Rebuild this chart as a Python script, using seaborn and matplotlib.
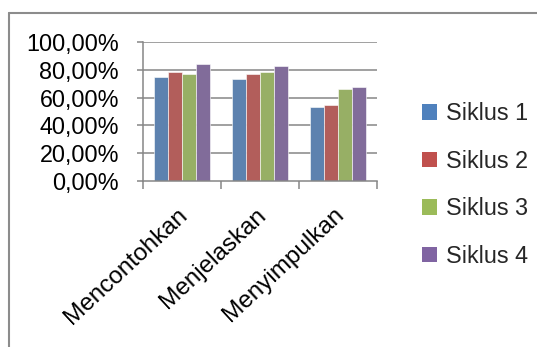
import matplotlib
matplotlib.use("Agg")
import matplotlib.pyplot as plt
import matplotlib.transforms as mtransforms
from matplotlib.lines import Line2D
from matplotlib.patches import Patch
from matplotlib.ticker import FuncFormatter, FixedLocator
import seaborn as sns
import pandas as pd

# Categories and per-cycle percentages
categories = ["Mencontohkan", "Menjelaskan", "Menyimpulkan"]
series_names = ["Siklus 1", "Siklus 2", "Siklus 3", "Siklus 4"]
siklus_1 = [0.751, 0.737, 0.535]
siklus_2 = [0.783, 0.769, 0.547]
siklus_3 = [0.769, 0.783, 0.663]
siklus_4 = [0.841, 0.824, 0.677]
y_ticks = [0.0, 0.2, 0.4, 0.6, 0.8, 1.0]

colors = ["#4F81BD", "#C0504D", "#9BBB59", "#8064A2"]

rows = []
for name, vals in zip(series_names, [siklus_1, siklus_2, siklus_3, siklus_4]):
    for cat, v in zip(categories, vals):
        rows.append({"Kategori": cat, "Siklus": name, "Nilai": v})
df = pd.DataFrame(rows)

sns.set_theme(style="white")
plt.rcParams["font.family"] = ["Liberation Sans", "DejaVu Sans"]

FS = 16.8
W, H = 537, 347
fig = plt.figure(figsize=(W / 100, H / 100), dpi=100)
# plot area in pixels: left 143, right 377, top 42, bottom 181
ax = fig.add_axes([143 / W, 1 - 181 / H, (377 - 143) / W, (181 - 42) / H])

sns.barplot(data=df, x="Kategori", y="Nilai", hue="Siklus", order=categories,
            hue_order=series_names, palette=colors, width=0.72, gap=0,
            edgecolor="white", linewidth=0.4, ax=ax, legend=False)

grid_color = "#868686"
ax.set_ylim(0, 1)
ax.set_xlim(-0.5, len(categories) - 0.5)
ax.yaxis.set_major_locator(FixedLocator(y_ticks))
ax.yaxis.set_major_formatter(FuncFormatter(lambda v, p: f"{v*100:.2f}%".replace(".", ",")))
for yv in y_ticks[1:]:
    ax.axhline(yv, color=grid_color, lw=1.1, zorder=0)

for side in ["top", "right"]:
    ax.spines[side].set_visible(False)
for side in ["left", "bottom"]:
    ax.spines[side].set_color(grid_color)
    ax.spines[side].set_linewidth(1.1)

ax.set_xlabel("")
ax.set_ylabel("")
ax.tick_params(axis="y", which="major", left=True, length=4.3, width=1.1,
               color=grid_color, labelsize=FS, pad=13, labelcolor="black")

# category labels at centres, tick marks between categories
ax.set_xticks(range(len(categories)))
ax.set_xticklabels(categories, rotation=43, ha="right", rotation_mode="anchor",
                   fontsize=17.5, color="black")
ax.tick_params(axis="x", which="major", bottom=False, length=0, pad=15)
shift = mtransforms.ScaledTranslation(-5 / 100, -2 / 100, fig.dpi_scale_trans)
for lbl in ax.get_xticklabels():
    lbl.set_transform(lbl.get_transform() + shift)
ax.set_xticks([i - 0.5 for i in range(len(categories) + 1)], minor=True)
ax.tick_params(axis="x", which="minor", bottom=True, length=6, width=1.1, color=grid_color)

# legend on the right
handles = [Patch(facecolor=c, edgecolor="none") for c in colors]
fig.legend(handles, series_names, loc="center left",
           bbox_to_anchor=(401 / W, 1 - 185 / H), frameon=False, fontsize=FS,
           handlelength=0.65, handleheight=0.65, handletextpad=0.4,
           labelspacing=1.05)

# chart border (left and top edges)
border = "#8C8C8C"
fig.add_artist(Line2D([9 / W, 9 / W], [0, 1 - 13 / H], color=border, lw=1.5,
                      transform=fig.transFigure))
fig.add_artist(Line2D([9 / W, 1], [1 - 13 / H, 1 - 13 / H], color=border, lw=1.5,
                      transform=fig.transFigure))

fig.savefig("out.png", dpi=100, facecolor="white")
